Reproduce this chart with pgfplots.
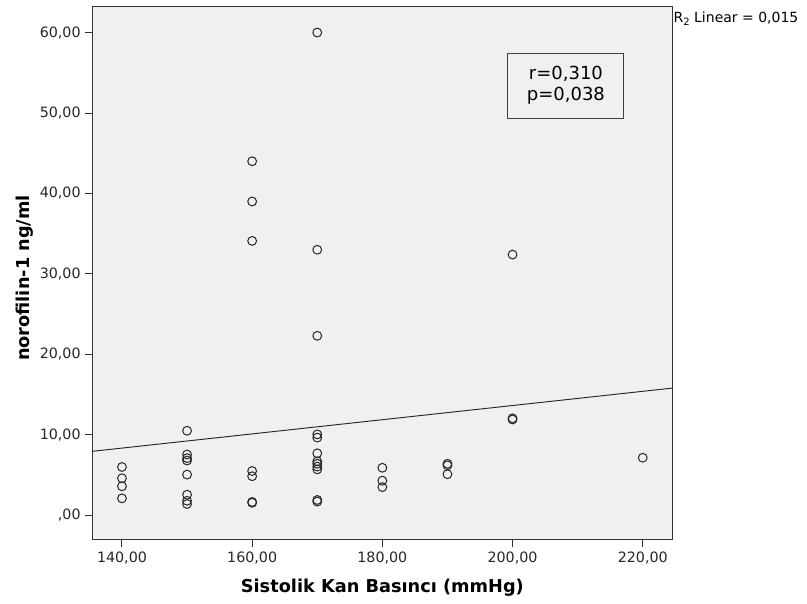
\documentclass[border=0pt]{standalone}
\usepackage{pgfplots}
\pgfplotsset{compat=1.18}
\usepackage{fontspec}
\setmainfont{DejaVu Sans}
\definecolor{plotbg}{HTML}{F0F0F0}
\begin{document}
\begin{tikzpicture}
\path[use as bounding box] (-69.5pt,-47.8pt) rectangle (535.7pt,404.5pt);
\begin{axis}[
  scale only axis, width=434.5pt, height=400pt,
  at={(0,0)}, anchor=south west,
  xmin=135.5, xmax=224.5, ymin=-3, ymax=63.3,
  axis background/.style={fill=plotbg},
  axis line style={draw=black!80, line width=0.7pt},
  xtick={140,160,180,200,220},
  xticklabels={{140,00},{160,00},{180,00},{200,00},{220,00}},
  ytick={0,10,20,30,40,50,60},
  yticklabels={{,00},{10,00},{20,00},{30,00},{40,00},{50,00},{60,00}},
  tick align=outside, tick pos=left,
  major tick length=5.5pt,
  tick style={black!80, line width=0.7pt},
  ticklabel style={font=\fontsize{10.7}{12}\selectfont, text=black!85},
  xlabel={Sistolik Kan Basıncı (mmHg)},
  ylabel={norofilin-1 ng/ml},
  xlabel style={font=\bfseries\fontsize{13.3}{15}\selectfont, at={(axis description cs:0.5,-0.09)}, anchor=center},
  ylabel style={font=\bfseries\fontsize{13.3}{15}\selectfont, at={(axis description cs:-0.117,0.49)}, anchor=center},
  clip=false,
]
\addplot[black!85, line width=0.7pt] coordinates {(135.5,7.95) (224.5,15.8)};
\addplot[only marks, mark=o, mark size=3.3pt, mark options={line width=0.75pt, draw=black!85}] coordinates {
(140,6.0) (140,4.6) (140,3.6) (140,2.1)
(150,10.5) (150,7.55) (150,7.1) (150,6.8) (150,5.05) (150,2.55) (150,1.8) (150,1.4)
(160,44.0) (160,39.0) (160,34.1) (160,5.5) (160,4.85) (160,1.65) (160,1.55)
(170,60.0) (170,33.0) (170,22.3) (170,10.05) (170,9.65) (170,7.7) (170,6.7) (170,6.4) (170,6.05) (170,5.7) (170,1.9) (170,1.7)
(180,5.9) (180,4.3) (180,3.5)
(190,6.4) (190,6.2) (190,5.1)
(200,32.4) (200,11.9) (200,12.05)
(220,7.15)
};
\node[draw=black!75, line width=0.7pt, fill=plotbg, align=center, minimum width=87pt, minimum height=48.75pt, inner sep=2pt, font=\fontsize{13.5}{15.75}\selectfont] at (axis cs:208.2,53.4) {r=0,310\\p=0,038};
\node[anchor=west, inner sep=1pt, font=\fontsize{10.5}{12}\selectfont] at (axis description cs:1,0.977) {R\raisebox{-0.4ex}{\fontsize{7.5}{8}\selectfont 2} Linear = 0,015};
\end{axis}
\end{tikzpicture}
\end{document}
